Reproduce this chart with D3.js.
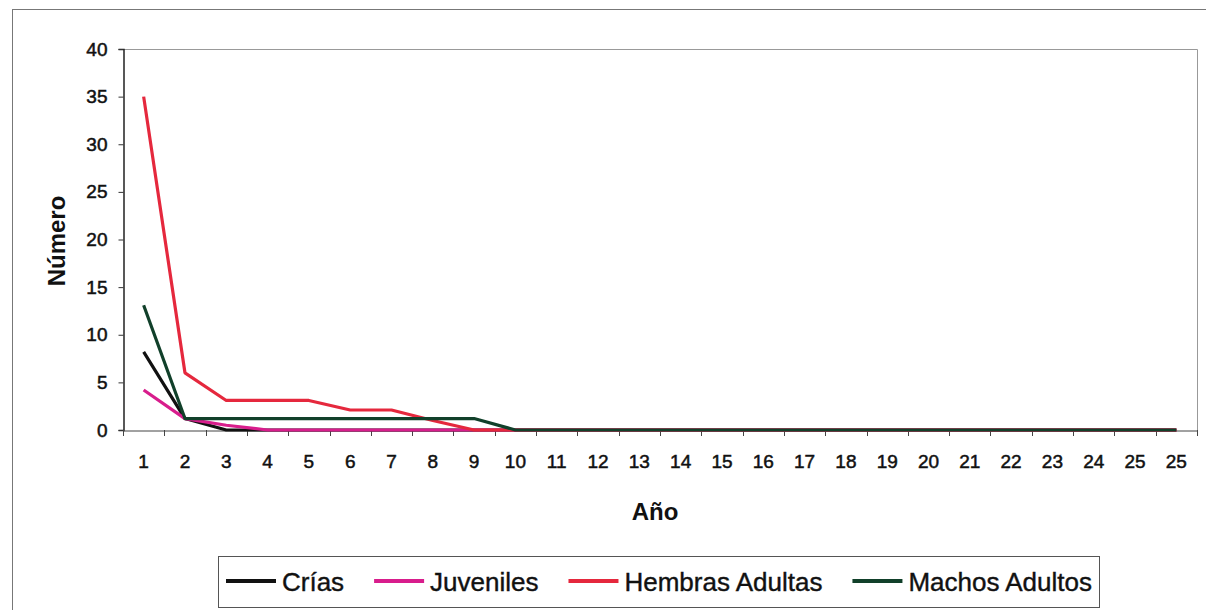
<!DOCTYPE html>
<html>
<head>
<meta charset="utf-8">
<script src="https://cdn.jsdelivr.net/npm/d3@7"></script>
<style>
  body { margin: 0; background: #fff; }
  svg { display: block; font-family: "Liberation Sans", Arial, sans-serif; }
</style>
</head>
<body>
<svg width="1206" height="610"></svg>
<script>
// category labels (the source repeats 25 at the end)
var years = ["1","2","3","4","5","6","7","8","9","10","11","12","13","14","15","16","17","18","19","20","21","22","23","24","25","25"];

var crias     = [8.2, 1.2, 0, 0, 0, 0, 0, 0, 0, 0, 0, 0, 0, 0, 0, 0, 0, 0, 0, 0, 0, 0, 0, 0, 0, 0];
var juveniles = [4.2, 1.2, 0.5, 0, 0, 0, 0, 0, 0, 0, 0, 0, 0, 0, 0, 0, 0, 0, 0, 0, 0, 0, 0, 0, 0, 0];
var hembras   = [35, 6, 3.1, 3.1, 3.1, 2.1, 2.1, 1, 0, 0, 0, 0, 0, 0, 0, 0, 0, 0, 0, 0, 0, 0, 0, 0, 0, 0];
var machos    = [13.1, 1.2, 1.2, 1.2, 1.2, 1.2, 1.2, 1.2, 1.2, 0, 0, 0, 0, 0, 0, 0, 0, 0, 0, 0, 0, 0, 0, 0, 0, 0];

var seriesNames = ["Crías", "Juveniles", "Hembras Adultas", "Machos Adultos"];
var seriesColors = ["#111111", "#d81d8c", "#e5283d", "#11402a"];
var yTicks = [0, 5, 10, 15, 20, 25, 30, 35, 40];

var series = [crias, juveniles, hembras, machos];

var svg = d3.select("svg");

var mLeft = 123, mRight = 1197, mTop = 49, mBottom = 430;

// outer chart frame
svg.append("rect")
    .attr("x", 12.5).attr("y", 9.5)
    .attr("width", 1220).attr("height", 620)
    .attr("fill", "#fff")
    .attr("stroke", "#777").attr("stroke-width", 1);

var x = d3.scaleBand()
    .domain(d3.range(years.length))
    .range([mLeft, mRight])
    .padding(0);

var y = d3.scaleLinear()
    .domain([0, 40])
    .range([mBottom, mTop]);

// plot area border (top + right)
svg.append("path")
    .attr("d", "M" + mLeft + "," + (mTop + 0.5) + "H" + (mRight + 0.5) + "V" + mBottom)
    .attr("fill", "none")
    .attr("stroke", "#999")
    .attr("stroke-width", 1);

// y axis
var yAxis = svg.append("g")
    .attr("transform", "translate(" + (mLeft + 0.5) + ",0)")
    .call(d3.axisLeft(y).tickValues(yTicks).tickSize(5).tickPadding(11));
yAxis.select(".domain").attr("stroke", "#222").attr("stroke-width", 1.5);
yAxis.selectAll(".tick line").attr("stroke", "#333");
yAxis.selectAll("text")
    .attr("font-size", 19)
    .attr("font-family", "Liberation Sans, Arial, sans-serif")
    .attr("fill", "#111")
    .attr("stroke", "#111").attr("stroke-width", 0.5);

// x axis: labels centred in bands, tick marks on band edges
var xAxis = svg.append("g")
    .attr("transform", "translate(0," + (mBottom + 0.5) + ")")
    .call(d3.axisBottom(x).tickFormat(function (i) { return years[i]; }).tickSize(0).tickPadding(24));
xAxis.select(".domain").attr("stroke", "#444").attr("stroke-width", 1);
xAxis.selectAll("text")
    .attr("font-size", 19)
    .attr("font-family", "Liberation Sans, Arial, sans-serif")
    .attr("fill", "#111")
    .attr("stroke", "#111").attr("stroke-width", 0.5);

var edges = d3.range(years.length).map(function (i) { return x(i); }).concat([mRight]);
svg.append("g").selectAll("line")
    .data(edges)
    .enter().append("line")
    .attr("x1", function (d) { return Math.round(d) + 0.5; })
    .attr("x2", function (d) { return Math.round(d) + 0.5; })
    .attr("y1", mBottom)
    .attr("y2", mBottom + 6)
    .attr("stroke", "#444");

// lines
var line = d3.line()
    .x(function (d, i) { return x(i) + x.bandwidth() / 2; })
    .y(function (d) { return y(d); });

svg.append("g").selectAll("path")
    .data(series)
    .enter().append("path")
    .attr("d", line)
    .attr("fill", "none")
    .attr("stroke", function (d, i) { return seriesColors[i]; })
    .attr("stroke-width", 3.2)
    .attr("stroke-linejoin", "round");

// axis titles
svg.append("text")
    .attr("x", (mLeft + mRight) / 2 - 5)
    .attr("y", 520)
    .attr("text-anchor", "middle")
    .attr("font-size", 24)
    .attr("font-weight", "bold")
    .attr("fill", "#111")
    .text("Año");

svg.append("text")
    .attr("transform", "translate(65,241) rotate(-90)")
    .attr("text-anchor", "middle")
    .attr("font-size", 24)
    .attr("font-weight", "bold")
    .attr("fill", "#111")
    .text("Número");

// legend: entries spread to fill the box
var legend = svg.append("g");
legend.append("rect")
    .attr("x", 218.5).attr("y", 556.5)
    .attr("width", 881).attr("height", 51)
    .attr("fill", "#fff")
    .attr("stroke", "#555");

var texts = seriesNames.map(function (name) {
    return legend.append("text")
        .attr("y", 591)
        .attr("font-size", 26)
        .attr("fill", "#111")
        .attr("stroke", "#111").attr("stroke-width", 0.4)
        .text(name);
});
var widths = texts.map(function (t) { return t.node().getComputedTextLength(); });
var lineLen = 50, gapIn = 6;
var used = d3.sum(widths) + seriesNames.length * (lineLen + gapIn);
var gapOut = (1092 - 226 - used) / (seriesNames.length - 1);

var lx = 226;
texts.forEach(function (t, i) {
    legend.append("line")
        .attr("x1", lx).attr("x2", lx + lineLen)
        .attr("y1", 581).attr("y2", 581)
        .attr("stroke", seriesColors[i])
        .attr("stroke-width", 4);
    t.attr("x", lx + lineLen + gapIn);
    lx = lx + lineLen + gapIn + widths[i] + gapOut;
});
</script>
</body>
</html>
